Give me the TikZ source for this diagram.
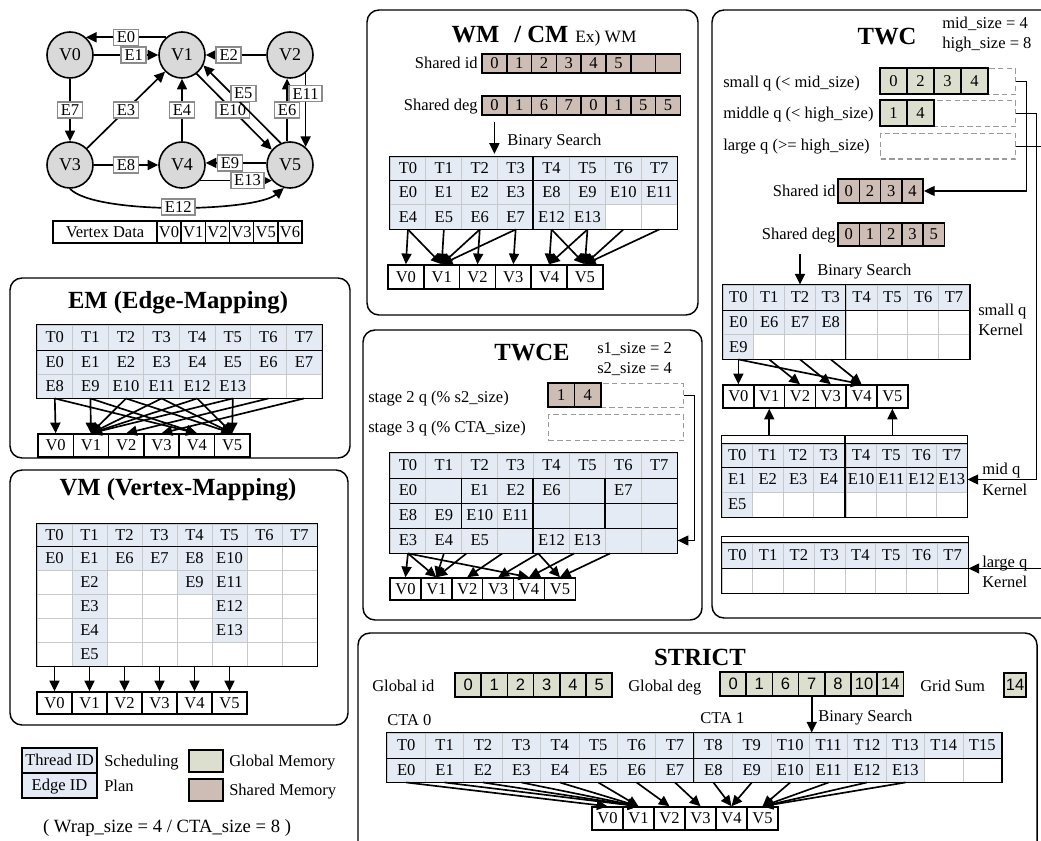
\documentclass[tikz,border=0pt]{standalone}
\usepackage{fontspec}
\setmainfont{Liberation Serif}
\newfontfamily\sansnum{Liberation Sans}
\usetikzlibrary{arrows.meta,calc}
\definecolor{cellblue}{HTML}{E5EBF4}
\definecolor{gridgray}{HTML}{C8C8C8}
\definecolor{globalc}{HTML}{DCDFCD}
\definecolor{sharedc}{HTML}{CDBDB5}
\definecolor{vgray}{HTML}{D9D9D9}
\definecolor{labgray}{HTML}{8C8C8C}
\definecolor{dashgray}{HTML}{9A9A9A}
\def\emp{-}
\tikzset{
 fnt/.style={font=\fontsize{12.4}{14}\selectfont, text height=10pt, text depth=2pt},
 ttl/.style={font=\fontsize{18.5}{20}\selectfont\bfseries, inner sep=0},
 panel/.style={draw, line width=1.1pt, rounded corners=9pt},
 cellnode/.style={draw=gridgray, line width=0.7pt, inner sep=0, fnt},
 vcell/.style={draw, line width=1.1pt, fill=white, inner sep=0, fnt},
 memcell/.style={draw, line width=1.1pt, inner sep=0, fnt},
 outl/.style={draw, line width=1.1pt},
 arr/.style={line width=1.25pt, -{Triangle[length=8pt,width=7.5pt]}},
 thinarr/.style={line width=0.8pt, -{Triangle[length=8pt,width=7.5pt]}},
 lbl/.style={fnt, inner sep=0},
 vert/.style={circle, draw, line width=1.2pt, fill=vgray, minimum size=34.5pt, inner sep=0, font=\fontsize{13.5}{15}\selectfont},
 elab/.style={draw=labgray, line width=1.2pt, fill=white, inner xsep=2.5pt, inner ysep=0pt, fnt},
 qdash/.style={draw=dashgray, line width=1.1pt, dash pattern=on 4pt off 2.5pt, inner sep=0, anchor=north west},
}
% table: name, x0, y0, colwidth, header h, row h, rows, fillall
\newcommand\mytable[8]{%
 \foreach \rl [count=\rr from 0] in {#7} {
   \foreach \cx [count=\cc from 0] in \rl {
     \pgfmathsetmacro\ya{ifthenelse(\rr==0,#3,#3+#5+(\rr-1)*#6)}
     \pgfmathsetmacro\hh{ifthenelse(\rr==0,#5,#6)}
     \pgfmathsetmacro\wpt{#4*0.75}
     \pgfmathsetmacro\hpt{\hh*0.75}
     \ifx\cx\emp \ifnum#8=1 \def\cf{cellblue}\else\def\cf{white}\fi \else \def\cf{cellblue}\fi
     \node[cellnode, minimum width=\wpt pt, minimum height=\hpt pt, fill=\cf] (#1-\rr-\cc) at (#2+\cc*#4+#4/2, \ya+\hh/2) {\ifx\cx\emp\else\cx\fi};
   }
 }
}
\newcommand\vrow[6]{%
 \pgfmathsetmacro\wpt{#4*0.75}\pgfmathsetmacro\hpt{#5*0.75}
 \foreach \cx [count=\cc from 0] in {#6} {
   \node[vcell, minimum width=\wpt pt, minimum height=\hpt pt] (#1-\cc) at (#2+\cc*#4+#4/2, #3+#5/2) {\cx};
 }}
\newcommand\memrow[7]{%
 \pgfmathsetmacro\wpt{#4*0.75}\pgfmathsetmacro\hpt{#5*0.75}
 \foreach \cx [count=\cc from 0] in {#7} {
   \node[memcell, fill=#6, minimum width=\wpt pt, minimum height=\hpt pt] (#1-\cc) at (#2+\cc*#4+#4/2, #3+#5/2) {\ifx\cx\emp\else\cx\fi};
 }}
\begin{document}
\begin{tikzpicture}[x=0.75pt,y=-0.75pt]
\useasboundingbox (0,0) rectangle (1041,841);
\clip (0,0) rectangle (1041,841);
\fill[white] (0,0) rectangle (1041,841);

%% ---------------- graph ----------------
\node[vert] (V0) at (70,55) {V0};
\node[vert] (V1) at (182,55) {V1};
\node[vert] (V2) at (290,55) {V2};
\node[vert] (V3) at (70,165) {V3};
\node[vert] (V4) at (182,165) {V4};
\node[vert] (V5) at (290,165) {V5};
\draw[arr] (V1.132) -- (V0.48) node[elab,midway] (lE0) {E0};
\draw[arr] (V0) -- (V1) node[elab,pos=0.62] (lE1) {E1};
\draw[arr] (V2) -- (V1) node[elab,pos=0.62] (lE2) {E2};
\draw[arr] (V0) -- (V3) node[elab,midway] (lE7) {E7};
\draw[arr] (V3) -- (V1) node[elab,midway] (lE3) {E3};
\draw[arr] (V4) -- (V1) node[elab,midway] (lE4) {E4};
\draw[arr] (V1.-52) -- (V5.140) node[elab,pos=0.48] (lE10) {E10};
\draw[arr] (V5.113) -- (V1.-26) node[elab,pos=0.64,xshift=9pt] (lE5) {E5};
\draw[arr] (V5.97) -- (V2.263) node[elab,midway] (lE6) {E6};
\draw[arr] (V2.-49) -- (V5.49) node[elab,pos=0.28] (lE11) {E11};
\draw[arr] (V3) -- (V4) node[elab,midway] (lE8) {E8};
\draw[arr] (V5.175) -- (V4.5) node[elab,pos=0.6] (lE9) {E9};
\draw[arr] (V4.-41) -- (V5.-139) node[elab,pos=0.66] (lE13) {E13};
\draw[arr] (V3.-90) .. controls (95,215) and (255,212) .. (V5.-105) node[elab,pos=0.51] (lE12) {E12};
\node[vcell, minimum width=78pt, minimum height=16.5pt] (vdata) at (105,232) {Vertex Data};
\vrow{vdc}{157}{221}{24.17}{22}{V0,V1,V2,V3,V5,V6}

%% ---------------- EM ----------------
\draw[panel] (10,278) rectangle (350,458);
\node[ttl] (emT) at (178,303) {EM (Edge-Mapping)};
\mytable{em}{37}{325}{35.6}{25}{24}{{T0,T1,T2,T3,T4,T5,T6,T7},{E0,E1,E2,E3,E4,E5,E6,E7},{E8,E9,E10,E11,E12,E13,-,-}}{0}
\draw[outl] (em-0-0.north west) rectangle (em-2-7.south east);
\draw[outl] (em-0-0.south west) -- (em-0-7.south east);
\vrow{emv}{38}{434}{35.3}{23}{V0,V1,V2,V3,V4,V5}
\foreach \cc/\dd in {0/0,1/1,2/1,3/1,4/1,5/1,6/2,7/3,0/4,1/4,2/5,3/5,4/5,5/5}
  \draw[arr] (em-2-\cc.south) -- (emv-\dd.north);

%% ---------------- VM ----------------
\draw[panel] (10,470) rectangle (348,725);
\node[ttl] (vmT) at (178,490) {VM (Vertex-Mapping)};
\mytable{vm}{37}{524}{35}{22}{24}{{T0,T1,T2,T3,T4,T5,T6,T7},{E0,E1,E6,E7,E8,E10,-,-},{-,E2,-,-,E9,E11,-,-},{-,E3,-,-,-,E12,-,-},{-,E4,-,-,-,E13,-,-},{-,E5,-,-,-,-,-,-}}{0}
\draw[outl] (vm-0-0.north west) rectangle (vm-5-7.south east);
\draw[outl] (vm-0-0.south west) -- (vm-0-7.south east);
\vrow{vmv}{37}{692}{35}{22}{V0,V1,V2,V3,V4,V5}
\foreach \cc in {0,...,5}
  \draw[arr] (vm-5-\cc.south) -- (vmv-\cc.north);

%% ---------------- legend ----------------
\node[memcell, fill=cellblue, minimum width=56.25pt, minimum height=18.75pt] (lgT) at (59.5,760.5) {Thread ID};
\node[memcell, fill=cellblue, minimum width=56.25pt, minimum height=18.75pt] (lgE) at (59.5,785.5) {Edge ID};
\node[lbl, anchor=west] (lgS) at (104,761) {Scheduling};
\node[lbl, anchor=west] (lgP) at (104,786) {Plan};
\node[memcell, fill=globalc, minimum width=25.5pt, minimum height=16.5pt] (lgG) at (206,761) {};
\node[memcell, fill=sharedc, minimum width=25.5pt, minimum height=16.5pt] (lgSh) at (206,790) {};
\node[lbl, anchor=west] (lgGt) at (229,761) {Global Memory};
\node[lbl, anchor=west] (lgSt) at (229,790) {Shared Memory};
\node[font=\fontsize{14}{16}\selectfont, inner sep=0] (wrap) at (167,828) {( Wrap\_size = 4 / CTA\_size = 8 )};

%% ---------------- WM / CM ----------------
\draw[panel] (367,10) rectangle (698,315);
\node[ttl] (wmT) at (510,35) {WM\hspace{0.6em}/ CM};
\node[lbl, anchor=west, font=\fontsize{13}{15}\selectfont] (wmEx) at (575,37) {Ex) WM};
\node[lbl, anchor=east] (wmSidL) at (478,63) {Shared id};
\memrow{wmSid}{482}{54}{24.8}{19}{sharedc}{0,1,2,3,4,5,-,-}
\node[lbl, anchor=east] (wmSdegL) at (478,105) {Shared deg};
\memrow{wmSdeg}{482}{96}{24.8}{19}{sharedc}{0,1,6,7,0,1,5,5}
\node[lbl, anchor=west] (wmBS) at (507,140) {Binary Search};
\mytable{wm}{390}{157}{35.9}{23}{24.5}{{T0,T1,T2,T3,T4,T5,T6,T7},{E0,E1,E2,E3,E8,E9,E10,E11},{E4,E5,E6,E7,E12,E13,-,-}}{0}
\draw[outl] (wm-0-0.north west) rectangle (wm-2-7.south east);
\draw[outl] (wm-0-0.south west) -- (wm-0-7.south east);
\draw[outl] (wm-0-4.north west) -- (wm-2-4.south west);
\draw[arr, shorten <=5pt, shorten >=2pt] (wmSdeg-0.south) -- (wmSdeg-0.south |- wm-0-2.north);
\vrow{wmv}{388}{265}{35.8}{24}{V0,V1,V2,V3,V4,V5}
\foreach \cc/\dd in {0/0,0/1,1/1,2/1,2/2,3/1,3/3,4/4,4/5,5/4,5/5,6/5,7/5}
  \draw[arr] (wm-2-\cc.south) -- (wmv-\dd.north);

%% ---------------- TWCE ----------------
\draw[panel] (363,330) rectangle (702,620);
\node[ttl] (tceT) at (532,353) {TWCE};
\node[lbl, anchor=west] (tceS1) at (597,348) {s1\_size = 2};
\node[lbl, anchor=west] (tceS2) at (597,368) {s2\_size = 4};
\node[lbl, anchor=west] (tceQ2L) at (368,397) {stage 2 q (\% s2\_size)};
\node[lbl, anchor=west] (tceQ3L) at (368,427) {stage 3 q (\% CTA\_size)};
\node[qdash, minimum width=101.25pt, minimum height=18pt] (tceQ2) at (548,383) {};
\node[qdash, minimum width=101.25pt, minimum height=19.5pt] (tceQ3) at (548,414) {};
\memrow{tceq}{548}{383}{26.5}{24}{sharedc}{1,4}
\mytable{tce}{390}{453}{35.9}{25}{25}{{T0,T1,T2,T3,T4,T5,T6,T7},{E0,-,E1,E2,E6,-,E7,-},{E8,E9,E10,E11,-,-,-,-},{E3,E4,E5,-,E12,E13,-,-}}{1}
\draw[outl] (tce-0-0.north west) rectangle (tce-3-7.south east);
\draw[outl] (tce-0-0.south west) -- (tce-0-7.south east);
\draw[outl] (tce-1-0.south west) -- (tce-1-7.south east);
\draw[outl] (tce-2-0.south west) -- (tce-2-7.south east);
\foreach \cc in {2,4,6} \draw[outl] (tce-1-\cc.north west) -- (tce-2-\cc.south west);
\draw[outl] (tce-3-4.north west) -- (tce-3-4.south west);
\draw[thinarr] (tceQ2.east) -- ++(10,0) |- (tce-3-7.east);
\vrow{tcev}{390}{578}{30.9}{22}{V0,V1,V2,V3,V4,V5}
\draw[arr] (tce-3-0.south) -- (tcev-0.north);
\draw[arr] (tce-3-0.south) -- (tcev-1.north);
\draw[arr] (tce-3-0.south) -- (tcev-4.north);
\draw[arr] (tce-3-1.south) -- (tcev-1.north);
\draw[arr] ([xshift=-10pt]tce-3-2.south) -- (tcev-1.north);
\draw[arr] ([xshift=-10pt]tce-3-3.south) -- (tcev-2.north);
\draw[arr] ([xshift=-10pt]tce-3-4.south) -- (tcev-3.north);
\draw[arr] ([xshift=-10pt]tce-3-4.south) -- (tcev-5.north);
\draw[arr] ([xshift=-10pt]tce-3-5.south) -- (tcev-4.north);
\draw[arr] ([xshift=-10pt]tce-3-6.south) -- (tcev-5.north);

%% ---------------- TWC ----------------
\draw[panel] (712,10) rectangle (1070,618);
\node[ttl] (twcT) at (887,37) {TWC};
\node[lbl, anchor=west] (twcMs) at (942,23) {mid\_size = 4};
\node[lbl, anchor=west] (twcHs) at (942,43) {high\_size = 8};
\node[lbl, anchor=west] (twcQsL) at (723,82) {small q (< mid\_size)};
\node[lbl, anchor=west] (twcQmL) at (723,113) {middle q (< high\_size)};
\node[lbl, anchor=west] (twcQlL) at (723,145) {large q (>= high\_size)};
\node[qdash, minimum width=101.25pt, minimum height=19.5pt] (twcQs) at (880,68) {};
\node[qdash, minimum width=101.25pt, minimum height=19.5pt] (twcQm) at (880,100) {};
\node[qdash, minimum width=101.25pt, minimum height=19pt] (twcQl) at (880,133) {};
\memrow{twcs}{880}{68}{27}{26}{globalc}{0,2,3,4}
\memrow{twcm}{880}{100}{27}{26}{globalc}{1,4}
\node[lbl, anchor=east] (twcSidL) at (836,191) {Shared id};
\memrow{twcSid}{838}{179}{21.3}{24}{sharedc}{0,2,3,4}
\node[lbl, anchor=east] (twcSdegL) at (836,234) {Shared deg};
\memrow{twcSdeg}{838}{223}{21.3}{23}{sharedc}{0,1,2,3,5}
\node[lbl, anchor=west] (twcBS) at (817,270) {Binary Search};
% small q kernel
\mytable{twcK}{723}{285}{30.8}{25}{24.5}{{T0,T1,T2,T3,T4,T5,T6,T7},{E0,E6,E7,E8,-,-,-,-},{E9,-,-,-,-,-,-,-}}{0}
\draw[outl] (twcK-0-0.north west) rectangle (twcK-2-7.south east);
\draw[outl] (twcK-0-0.south west) -- (twcK-0-7.south east);
\draw[outl] (twcK-0-4.north west) -- (twcK-2-4.south west);
\draw[arr, shorten <=9pt] (twcSdegL.south -| twcK-0-2.north) -- (twcK-0-2.north);
\node[lbl, anchor=west] (twcKs1) at (978,310) {small q};
\node[lbl, anchor=west] (twcKs2) at (978,330) {Kernel};
\vrow{twcv}{723}{385}{30.8}{23}{V0,V1,V2,V3,V4,V5}
\foreach \cc/\dd in {0/0,0/4,1/2,2/3,3/4}
  \draw[arr] (twcK-2-\cc.south) -- (twcv-\dd.north);
% mid q kernel
\mytable{twcML}{722}{444}{30.5}{23}{25}{{T0,T1,T2,T3},{E1,E2,E3,E4},{E5,-,-,-}}{0}
\mytable{twcMR}{846}{444}{30.25}{23}{25}{{T4,T5,T6,T7},{E10,E11,E12,E13},{-,-,-,-}}{0}
\draw[outl] (twcML-0-0.north west) rectangle (twcML-2-3.south east);
\draw[outl] (twcML-0-0.south west) -- (twcML-0-3.south east);
\draw[outl] (twcMR-0-0.north west) rectangle (twcMR-2-3.south east);
\draw[outl] (twcMR-0-0.south west) -- (twcMR-0-3.south east);
\draw[outl] (twcML-0-0.north west) -- ++(0,-8) -| (twcML-0-3.north east);
\draw[outl] (twcMR-0-0.north west) -- ++(0,-8) -| (twcMR-0-3.north east);
\coordinate (twcLidL) at ([yshift=6pt]twcML-0-0.north west);
\draw[arr] (twcv-1.south |- twcLidL) -- (twcv-1.south);
\draw[arr] (twcv-5.south |- twcLidL) -- (twcv-5.south);
\node[lbl, anchor=west] (twcKm1) at (982,469) {mid q};
\node[lbl, anchor=west] (twcKm2) at (982,490) {Kernel};
% large q kernel
\mytable{twcL}{722}{543}{30.75}{25}{25}{{T0,T1,T2,T3,T4,T5,T6,T7},{-,-,-,-,-,-,-,-}}{0}
\draw[outl] (twcL-0-0.north west) rectangle (twcL-1-7.south east);
\draw[outl] (twcL-0-0.south west) -- (twcL-0-7.south east);
\draw[outl] (twcL-0-0.north west) -- ++(0,-6) -| (twcL-0-7.north east);
\node[lbl, anchor=west] (twcKl1) at (982,562) {large q};
\node[lbl, anchor=west] (twcKl2) at (982,582) {Kernel};
% queue connectors
\draw[thinarr] (twcQs.east) -- ++(10,0) |- (twcSid-3.east);
\draw[thinarr] (twcQm.east) -- ++(20,0) |- (twcMR-1-3.east);
\draw[thinarr] (twcQl.east) -- ++(40,0) |- (twcL-0-7.south east);

%% ---------------- STRICT ----------------
\draw[panel] (358,633) rectangle (1037,880);
\node[ttl] (stT) at (700,657) {STRICT};
\node[lbl, anchor=west] (stGidL) at (372,686) {Global id};
\node[lbl, anchor=west] (stGdegL) at (628,686) {Global deg};
\node[lbl, anchor=west] (stGSL) at (920,686) {Grid Sum};
\begin{scope}[memcell/.append style={font=\sansnum\fontsize{12.4}{14}\selectfont}]
\memrow{stGid}{455}{673}{26.2}{24}{globalc}{0,1,2,3,4,5}
\memrow{stGdeg}{720}{672}{26.2}{24}{globalc}{0,1,6,7,8,10,14}
\memrow{stGsum}{1004}{673}{22}{24}{globalc}{14}
\end{scope}
\node[lbl, anchor=west] (stC0) at (387,720) {CTA 0};
\node[lbl, anchor=west] (stC1) at (700,718) {CTA 1};
\node[lbl, anchor=west] (stBS) at (818,716) {Binary Search};
\mytable{st}{387}{733}{38.4}{25}{24}{{T0,T1,T2,T3,T4,T5,T6,T7,T8,T9,T10,T11,T12,T13,T14,T15},{E0,E1,E2,E3,E4,E5,E6,E7,E8,E9,E10,E11,E12,E13,-,-}}{0}
\draw[outl] (st-0-0.north west) rectangle (st-1-15.south east);
\draw[outl] (st-0-0.south west) -- (st-0-15.south east);
\draw[outl] (st-0-8.north west) -- (st-1-8.south west);
\draw[arr] (stGdeg-3.south) -- (stGdeg-3.south |- st-0-10.north);
\vrow{stv}{592}{807}{31}{23}{V0,V1,V2,V3,V4,V5}
\foreach \cc/\dd in {0/0,1/1,2/1,3/1,4/1,5/1,6/2,7/3,8/4,9/4,10/5,11/5,12/5,13/5}
  \draw[arr] (st-1-\cc.south) -- (stv-\dd.north);
\end{tikzpicture}
\end{document}
